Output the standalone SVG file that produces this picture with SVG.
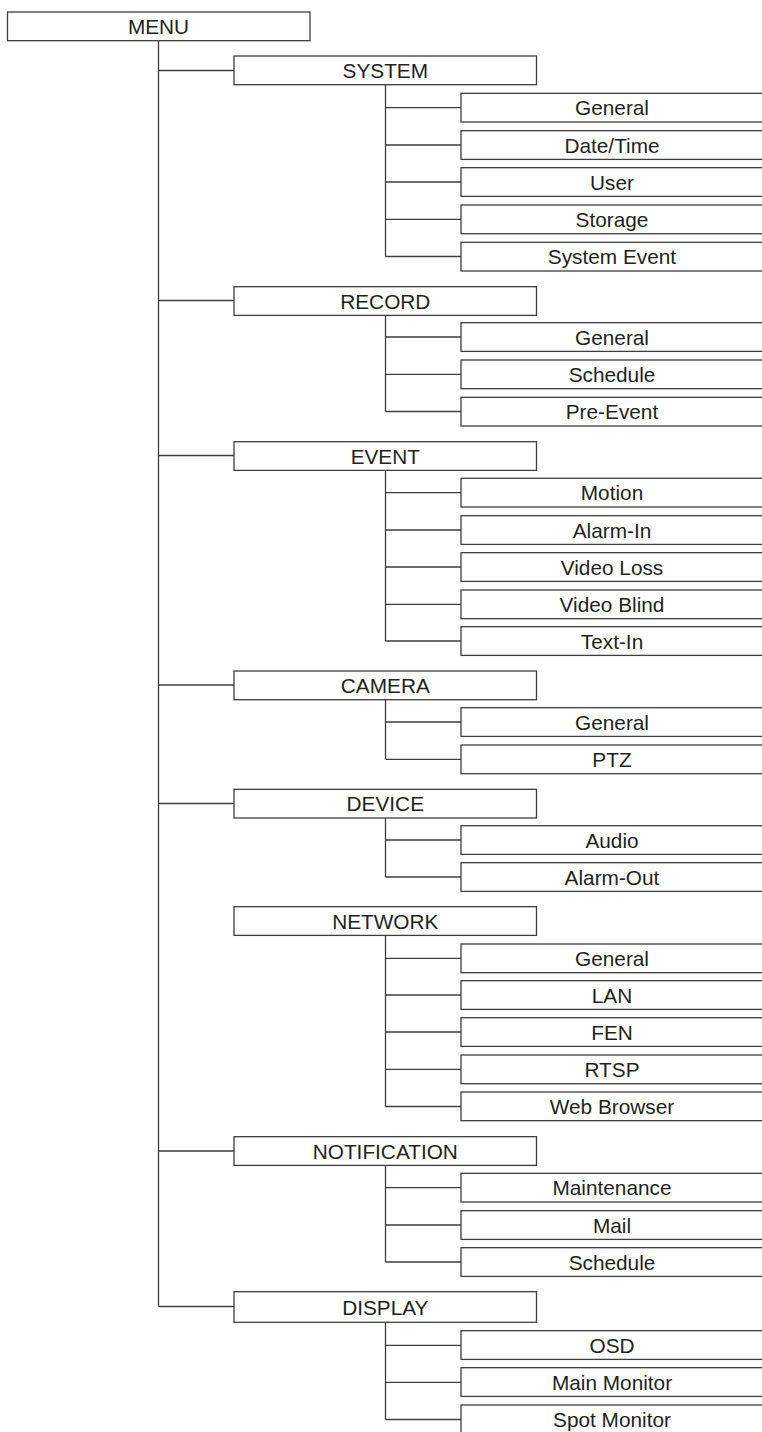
<svg xmlns="http://www.w3.org/2000/svg" width="762" height="1432" viewBox="0 0 762 1432">
<style>
.b{fill:#fff;stroke:#3d3d3d;stroke-width:1.3}
.t{font-family:"Liberation Sans",Arial,sans-serif;font-size:20.8px;fill:#231f20;text-anchor:middle}
.c{fill:none;stroke:#3d3d3d;stroke-width:1.3}
</style>
<rect width="762" height="1432" fill="#fff"/>
<g id="connectors" class="c">
<path d="M158.5 41V1306.5M158.5 70.5H234M158.5 300.5H234M158.5 455.5H234M158.5 685H234M158.5 803.5H234M158.5 1151H234M158.5 1306.5H234"/>
<path d="M385.5 84.7V256.5M385.5 107.6H461M385.5 145H461M385.5 182H461M385.5 219.3H461M385.5 256.5H461"/>
<path d="M385.5 315V411.5M385.5 337H461M385.5 374.3H461M385.5 411.5H461"/>
<path d="M385.5 470V641M385.5 492.6H461M385.5 530H461M385.5 567H461M385.5 604.3H461M385.5 641H461"/>
<path d="M385.5 699.5V759.3M385.5 722H461M385.5 759.3H461"/>
<path d="M385.5 818V877M385.5 840H461M385.5 877H461"/>
<path d="M385.5 935.3V1106.5M385.5 958.3H461M385.5 995H461M385.5 1032H461M385.5 1069.3H461M385.5 1106.5H461"/>
<path d="M385.5 1165.3V1262M385.5 1187.6H461M385.5 1225H461M385.5 1262H461"/>
<path d="M385.5 1322.3V1419.5M385.5 1345.3H461M385.5 1382.3H461M385.5 1419.5H461"/>
</g>
<g id="menu"><rect class="b" x="7.5" y="12" width="302.5" height="28.7"/><text class="t" x="158.5" y="34">MENU</text></g>
<g id="system"><rect class="b" x="234" y="56" width="302.5" height="28.7"/><text class="t" x="385.3" y="78">SYSTEM</text></g>
<g id="system-general"><rect class="b" x="461" y="93.3" width="302" height="28.7"/><text class="t" x="612" y="115.3">General</text></g>
<g id="system-datetime"><rect class="b" x="461" y="130.7" width="302" height="28.7"/><text class="t" x="612" y="152.7">Date/Time</text></g>
<g id="system-user"><rect class="b" x="461" y="167.7" width="302" height="28.7"/><text class="t" x="612" y="189.7">User</text></g>
<g id="system-storage"><rect class="b" x="461" y="205" width="302" height="28.7"/><text class="t" x="612" y="227">Storage</text></g>
<g id="system-event"><rect class="b" x="461" y="242.3" width="302" height="28.7"/><text class="t" x="612" y="264.3">System Event</text></g>
<g id="record"><rect class="b" x="234" y="286.7" width="302.5" height="28.7"/><text class="t" x="385.3" y="308.7">RECORD</text></g>
<g id="record-general"><rect class="b" x="461" y="322.7" width="302" height="28.7"/><text class="t" x="612" y="344.7">General</text></g>
<g id="record-schedule"><rect class="b" x="461" y="360" width="302" height="28.7"/><text class="t" x="612" y="382">Schedule</text></g>
<g id="record-preevent"><rect class="b" x="461" y="397.3" width="302" height="28.7"/><text class="t" x="612" y="419.3">Pre-Event</text></g>
<g id="event"><rect class="b" x="234" y="441.7" width="302.5" height="28.7"/><text class="t" x="385.3" y="463.7">EVENT</text></g>
<g id="event-motion"><rect class="b" x="461" y="478.3" width="302" height="28.7"/><text class="t" x="612" y="500.3">Motion</text></g>
<g id="event-alarmin"><rect class="b" x="461" y="515.7" width="302" height="28.7"/><text class="t" x="612" y="537.7">Alarm-In</text></g>
<g id="event-videoloss"><rect class="b" x="461" y="552.7" width="302" height="28.7"/><text class="t" x="612" y="574.7">Video Loss</text></g>
<g id="event-videoblind"><rect class="b" x="461" y="590" width="302" height="28.7"/><text class="t" x="612" y="612">Video Blind</text></g>
<g id="event-textin"><rect class="b" x="461" y="626.7" width="302" height="28.7"/><text class="t" x="612" y="648.7">Text-In</text></g>
<g id="camera"><rect class="b" x="234" y="671" width="302.5" height="28.7"/><text class="t" x="385.3" y="693">CAMERA</text></g>
<g id="camera-general"><rect class="b" x="461" y="707.7" width="302" height="28.7"/><text class="t" x="612" y="729.7">General</text></g>
<g id="camera-ptz"><rect class="b" x="461" y="745" width="302" height="28.7"/><text class="t" x="612" y="767">PTZ</text></g>
<g id="device"><rect class="b" x="234" y="789.3" width="302.5" height="28.7"/><text class="t" x="385.3" y="811.3">DEVICE</text></g>
<g id="device-audio"><rect class="b" x="461" y="825.7" width="302" height="28.7"/><text class="t" x="612" y="847.7">Audio</text></g>
<g id="device-alarmout"><rect class="b" x="461" y="862.7" width="302" height="28.7"/><text class="t" x="612" y="884.7">Alarm-Out</text></g>
<g id="network"><rect class="b" x="234" y="906.7" width="302.5" height="28.7"/><text class="t" x="385.3" y="928.7">NETWORK</text></g>
<g id="network-general"><rect class="b" x="461" y="944" width="302" height="28.7"/><text class="t" x="612" y="966">General</text></g>
<g id="network-lan"><rect class="b" x="461" y="980.7" width="302" height="28.7"/><text class="t" x="612" y="1002.7">LAN</text></g>
<g id="network-fen"><rect class="b" x="461" y="1017.7" width="302" height="28.7"/><text class="t" x="612" y="1039.7">FEN</text></g>
<g id="network-rtsp"><rect class="b" x="461" y="1055" width="302" height="28.7"/><text class="t" x="612" y="1077">RTSP</text></g>
<g id="network-web"><rect class="b" x="461" y="1092" width="302" height="28.7"/><text class="t" x="612" y="1114">Web Browser</text></g>
<g id="notification"><rect class="b" x="234" y="1136.7" width="302.5" height="28.7"/><text class="t" x="385.3" y="1158.7">NOTIFICATION</text></g>
<g id="notification-maintenance"><rect class="b" x="461" y="1173.3" width="302" height="28.7"/><text class="t" x="612" y="1195.3">Maintenance</text></g>
<g id="notification-mail"><rect class="b" x="461" y="1210.7" width="302" height="28.7"/><text class="t" x="612" y="1232.7">Mail</text></g>
<g id="notification-schedule"><rect class="b" x="461" y="1247.7" width="302" height="28.7"/><text class="t" x="612" y="1269.7">Schedule</text></g>
<g id="display"><rect class="b" x="234" y="1291.7" width="302.5" height="30.6"/><text class="t" x="385.3" y="1314.5">DISPLAY</text></g>
<g id="display-osd"><rect class="b" x="461" y="1330.7" width="302" height="28.7"/><text class="t" x="612" y="1352.7">OSD</text></g>
<g id="display-main"><rect class="b" x="461" y="1367.7" width="302" height="28.7"/><text class="t" x="612" y="1389.7">Main Monitor</text></g>
<g id="display-spot"><rect class="b" x="461" y="1405" width="302" height="28.7"/><text class="t" x="612" y="1427">Spot Monitor</text></g>
</svg>
